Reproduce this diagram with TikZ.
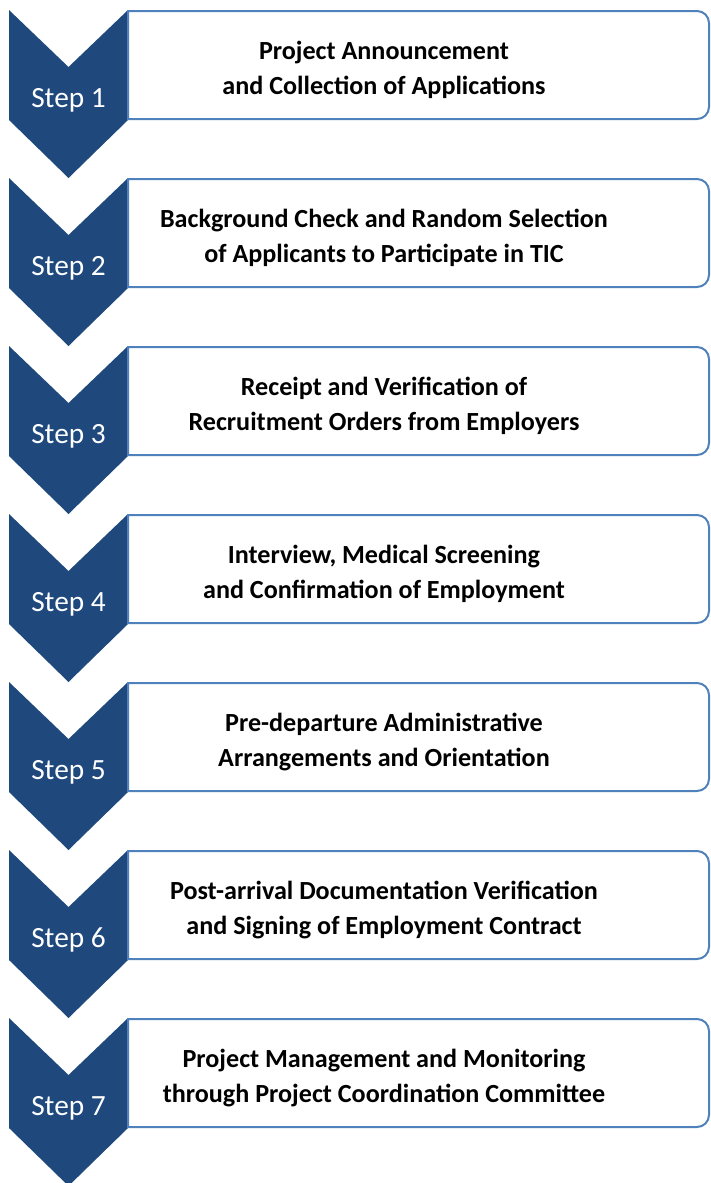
\documentclass[tikz,border=0pt]{standalone}
\usepackage{fontspec}
\setmainfont{Carlito}
\definecolor{stepblue}{HTML}{1F497D}
\definecolor{boxblue}{HTML}{4F81BD}
\tikzset{chevron/.style={fill=stepblue,draw=none}}
\tikzset{stage/.style={draw=boxblue,fill=white,line width=1.5pt}}
\tikzset{steplabel/.style={text=white,font=\fontsize{22}{26}\selectfont,anchor=base,inner sep=0pt}}
\tikzset{stagetext/.style={align=center,inner sep=0pt,font=\bfseries\fontsize{19.6}{26.25}\selectfont}}

\begin{document}
\begin{tikzpicture}[x=0.75pt,y=-0.75pt]
\useasboundingbox (0,0) rectangle (711,1183);
% step 1
\begin{scope}
	\fill[chevron] (9,10) -- (68.5,67) -- (128,10) -- (128,120) -- (68.5,178) -- (9,120) -- cycle;
	\draw[stage] (128,11) [rounded corners=9pt] -- (709,11) -- (709,119) [sharp corners] -- (128,119) -- cycle;
	\node (step1) [steplabel] at (68.5,107) {Step 1};
	\node (stage1) [stagetext] at (384,70) {Project Announcement\\and Collection of Applications};
\end{scope}
% step 2
\begin{scope}[shift={(0,168)}]
	\fill[chevron] (9,10) -- (68.5,67) -- (128,10) -- (128,120) -- (68.5,178) -- (9,120) -- cycle;
	\draw[stage] (128,11) [rounded corners=9pt] -- (709,11) -- (709,119) [sharp corners] -- (128,119) -- cycle;
	\node (step2) [steplabel] at (68.5,107) {Step 2};
	\node (stage2) [stagetext] at (384,70) {Background Check and Random Selection\\of Applicants to Participate in TIC};
\end{scope}
% step 3
\begin{scope}[shift={(0,336)}]
	\fill[chevron] (9,10) -- (68.5,67) -- (128,10) -- (128,120) -- (68.5,178) -- (9,120) -- cycle;
	\draw[stage] (128,11) [rounded corners=9pt] -- (709,11) -- (709,119) [sharp corners] -- (128,119) -- cycle;
	\node (step3) [steplabel] at (68.5,107) {Step 3};
	\node (stage3) [stagetext] at (384,70) {Receipt and Verification of\\Recruitment Orders from Employers};
\end{scope}
% step 4
\begin{scope}[shift={(0,504)}]
	\fill[chevron] (9,10) -- (68.5,67) -- (128,10) -- (128,120) -- (68.5,178) -- (9,120) -- cycle;
	\draw[stage] (128,11) [rounded corners=9pt] -- (709,11) -- (709,119) [sharp corners] -- (128,119) -- cycle;
	\node (step4) [steplabel] at (68.5,107) {Step 4};
	\node (stage4) [stagetext] at (384,70) {Interview, Medical Screening\\and Confirmation of Employment};
\end{scope}
% step 5
\begin{scope}[shift={(0,672)}]
	\fill[chevron] (9,10) -- (68.5,67) -- (128,10) -- (128,120) -- (68.5,178) -- (9,120) -- cycle;
	\draw[stage] (128,11) [rounded corners=9pt] -- (709,11) -- (709,119) [sharp corners] -- (128,119) -- cycle;
	\node (step5) [steplabel] at (68.5,107) {Step 5};
	\node (stage5) [stagetext] at (384,70) {Pre-departure Administrative\\Arrangements and Orientation};
\end{scope}
% step 6
\begin{scope}[shift={(0,840)}]
	\fill[chevron] (9,10) -- (68.5,67) -- (128,10) -- (128,120) -- (68.5,178) -- (9,120) -- cycle;
	\draw[stage] (128,11) [rounded corners=9pt] -- (709,11) -- (709,119) [sharp corners] -- (128,119) -- cycle;
	\node (step6) [steplabel] at (68.5,107) {Step 6};
	\node (stage6) [stagetext] at (384,70) {Post-arrival Documentation Verification\\and Signing of Employment Contract};
\end{scope}
% step 7
\begin{scope}[shift={(0,1008)}]
	\fill[chevron] (9,10) -- (68.5,67) -- (128,10) -- (128,120) -- (68.5,178) -- (9,120) -- cycle;
	\draw[stage] (128,11) [rounded corners=9pt] -- (709,11) -- (709,119) [sharp corners] -- (128,119) -- cycle;
	\node (step7) [steplabel] at (68.5,107) {Step 7};
	\node (stage7) [stagetext] at (384,70) {Project Management and Monitoring\\through Project Coordination Committee};
\end{scope}
\end{tikzpicture}
\end{document}
